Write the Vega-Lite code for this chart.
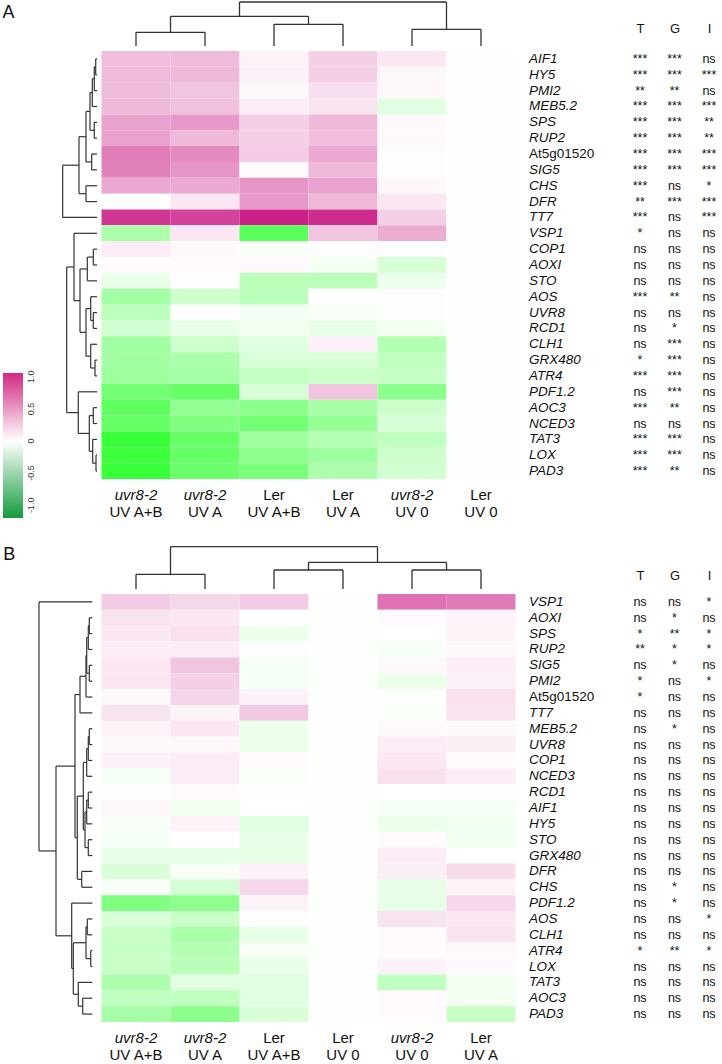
{
  "$schema": "https://vega.github.io/schema/vega-lite/v6.json",
  "padding": 0,
  "config": {"view": {"stroke": null}, "font": "Liberation Sans"},
  "datasets": {
    "heatA": [
      {"gene":"AIF1","uvr8-2|UV A+B":0.28,"uvr8-2|UV A":0.29,"Ler|UV A+B":0.05,"Ler|UV A":0.2,"uvr8-2|UV 0":0.1,"Ler|UV 0":-0.01},
      {"gene":"HY5","uvr8-2|UV A+B":0.29,"uvr8-2|UV A":0.3,"Ler|UV A+B":0.06,"Ler|UV A":0.2,"uvr8-2|UV 0":0.04,"Ler|UV 0":-0.01},
      {"gene":"PMI2","uvr8-2|UV A+B":0.29,"uvr8-2|UV A":0.25,"Ler|UV A+B":0.04,"Ler|UV A":0.14,"uvr8-2|UV 0":0.04,"Ler|UV 0":-0.01},
      {"gene":"MEB5.2","uvr8-2|UV A+B":0.3,"uvr8-2|UV A":0.27,"Ler|UV A+B":0.08,"Ler|UV A":0.12,"uvr8-2|UV 0":-0.12,"Ler|UV 0":-0.01},
      {"gene":"SPS","uvr8-2|UV A+B":0.4,"uvr8-2|UV A":0.43,"Ler|UV A+B":0.2,"Ler|UV A":0.3,"uvr8-2|UV 0":0.03,"Ler|UV 0":-0.01},
      {"gene":"RUP2","uvr8-2|UV A+B":0.4,"uvr8-2|UV A":0.3,"Ler|UV A+B":0.2,"Ler|UV A":0.28,"uvr8-2|UV 0":0.03,"Ler|UV 0":-0.01},
      {"gene":"At5g01520","uvr8-2|UV A+B":0.55,"uvr8-2|UV A":0.5,"Ler|UV A+B":0.22,"Ler|UV A":0.37,"uvr8-2|UV 0":0.01,"Ler|UV 0":-0.01},
      {"gene":"SIG5","uvr8-2|UV A+B":0.53,"uvr8-2|UV A":0.45,"Ler|UV A+B":0.02,"Ler|UV A":0.3,"uvr8-2|UV 0":0.01,"Ler|UV 0":-0.01},
      {"gene":"CHS","uvr8-2|UV A+B":0.37,"uvr8-2|UV A":0.36,"Ler|UV A+B":0.45,"Ler|UV A":0.4,"uvr8-2|UV 0":0.04,"Ler|UV 0":-0.01},
      {"gene":"DFR","uvr8-2|UV A+B":-0.01,"uvr8-2|UV A":0.1,"Ler|UV A+B":0.43,"Ler|UV A":0.3,"uvr8-2|UV 0":0.1,"Ler|UV 0":-0.01},
      {"gene":"TT7","uvr8-2|UV A+B":0.85,"uvr8-2|UV A":0.8,"Ler|UV A+B":0.95,"Ler|UV A":0.9,"uvr8-2|UV 0":0.2,"Ler|UV 0":-0.01},
      {"gene":"VSP1","uvr8-2|UV A+B":-0.33,"uvr8-2|UV A":0.1,"Ler|UV A+B":-0.65,"Ler|UV A":0.25,"uvr8-2|UV 0":0.35,"Ler|UV 0":-0.01},
      {"gene":"COP1","uvr8-2|UV A+B":0.08,"uvr8-2|UV A":0.03,"Ler|UV A+B":-0.02,"Ler|UV A":0.01,"uvr8-2|UV 0":0.01,"Ler|UV 0":-0.01},
      {"gene":"AOXI","uvr8-2|UV A+B":0.02,"uvr8-2|UV A":0.02,"Ler|UV A+B":0.03,"Ler|UV A":-0.05,"uvr8-2|UV 0":-0.16,"Ler|UV 0":-0.01},
      {"gene":"STO","uvr8-2|UV A+B":-0.1,"uvr8-2|UV A":0.01,"Ler|UV A+B":-0.27,"Ler|UV A":-0.27,"uvr8-2|UV 0":-0.07,"Ler|UV 0":-0.01},
      {"gene":"AOS","uvr8-2|UV A+B":-0.36,"uvr8-2|UV A":-0.2,"Ler|UV A+B":-0.27,"Ler|UV A":0.01,"uvr8-2|UV 0":0.01,"Ler|UV 0":-0.01},
      {"gene":"UVR8","uvr8-2|UV A+B":-0.26,"uvr8-2|UV A":0.01,"Ler|UV A+B":-0.05,"Ler|UV A":-0.03,"uvr8-2|UV 0":0.01,"Ler|UV 0":-0.01},
      {"gene":"RCD1","uvr8-2|UV A+B":-0.18,"uvr8-2|UV A":-0.1,"Ler|UV A+B":-0.05,"Ler|UV A":-0.1,"uvr8-2|UV 0":-0.05,"Ler|UV 0":-0.01},
      {"gene":"CLH1","uvr8-2|UV A+B":-0.37,"uvr8-2|UV A":-0.2,"Ler|UV A+B":-0.12,"Ler|UV A":0.06,"uvr8-2|UV 0":-0.3,"Ler|UV 0":-0.01},
      {"gene":"GRX480","uvr8-2|UV A+B":-0.37,"uvr8-2|UV A":-0.33,"Ler|UV A+B":-0.15,"Ler|UV A":-0.15,"uvr8-2|UV 0":-0.25,"Ler|UV 0":-0.01},
      {"gene":"ATR4","uvr8-2|UV A+B":-0.38,"uvr8-2|UV A":-0.35,"Ler|UV A+B":-0.23,"Ler|UV A":-0.2,"uvr8-2|UV 0":-0.22,"Ler|UV 0":-0.01},
      {"gene":"PDF1.2","uvr8-2|UV A+B":-0.55,"uvr8-2|UV A":-0.6,"Ler|UV A+B":-0.15,"Ler|UV A":0.25,"uvr8-2|UV 0":-0.45,"Ler|UV 0":-0.01},
      {"gene":"AOC3","uvr8-2|UV A+B":-0.63,"uvr8-2|UV A":-0.42,"Ler|UV A+B":-0.45,"Ler|UV A":-0.35,"uvr8-2|UV 0":-0.2,"Ler|UV 0":-0.01},
      {"gene":"NCED3","uvr8-2|UV A+B":-0.6,"uvr8-2|UV A":-0.5,"Ler|UV A+B":-0.55,"Ler|UV A":-0.42,"uvr8-2|UV 0":-0.15,"Ler|UV 0":-0.01},
      {"gene":"TAT3","uvr8-2|UV A+B":-0.78,"uvr8-2|UV A":-0.6,"Ler|UV A+B":-0.38,"Ler|UV A":-0.3,"uvr8-2|UV 0":-0.25,"Ler|UV 0":-0.01},
      {"gene":"LOX","uvr8-2|UV A+B":-0.76,"uvr8-2|UV A":-0.6,"Ler|UV A+B":-0.45,"Ler|UV A":-0.38,"uvr8-2|UV 0":-0.2,"Ler|UV 0":-0.01},
      {"gene":"PAD3","uvr8-2|UV A+B":-0.78,"uvr8-2|UV A":-0.58,"Ler|UV A+B":-0.52,"Ler|UV A":-0.32,"uvr8-2|UV 0":-0.18,"Ler|UV 0":-0.01}
    ],
    "heatB": [
      {"gene":"VSP1","uvr8-2|UV A+B":0.22,"uvr8-2|UV A":0.17,"Ler|UV A+B":0.22,"Ler|UV 0":-0.01,"uvr8-2|UV 0":0.6,"Ler|UV A":0.57},
      {"gene":"AOXI","uvr8-2|UV A+B":0.12,"uvr8-2|UV A":0.1,"Ler|UV A+B":0.0,"Ler|UV 0":-0.01,"uvr8-2|UV 0":0.02,"Ler|UV A":0.05},
      {"gene":"SPS","uvr8-2|UV A+B":0.1,"uvr8-2|UV A":0.13,"Ler|UV A+B":-0.08,"Ler|UV 0":-0.01,"uvr8-2|UV 0":0.0,"Ler|UV A":0.05},
      {"gene":"RUP2","uvr8-2|UV A+B":0.08,"uvr8-2|UV A":0.08,"Ler|UV A+B":0.01,"Ler|UV 0":-0.01,"uvr8-2|UV 0":-0.04,"Ler|UV A":0.03},
      {"gene":"SIG5","uvr8-2|UV A+B":0.1,"uvr8-2|UV A":0.25,"Ler|UV A+B":-0.04,"Ler|UV 0":-0.01,"uvr8-2|UV 0":0.03,"Ler|UV A":0.08},
      {"gene":"PMI2","uvr8-2|UV A+B":0.1,"uvr8-2|UV A":0.2,"Ler|UV A+B":-0.04,"Ler|UV 0":-0.01,"uvr8-2|UV 0":-0.08,"Ler|UV A":0.06},
      {"gene":"At5g01520","uvr8-2|UV A+B":0.03,"uvr8-2|UV A":0.18,"Ler|UV A+B":0.06,"Ler|UV 0":-0.01,"uvr8-2|UV 0":-0.01,"Ler|UV A":0.13},
      {"gene":"TT7","uvr8-2|UV A+B":0.12,"uvr8-2|UV A":0.05,"Ler|UV A+B":0.23,"Ler|UV 0":-0.01,"uvr8-2|UV 0":-0.02,"Ler|UV A":0.12},
      {"gene":"MEB5.2","uvr8-2|UV A+B":0.05,"uvr8-2|UV A":0.1,"Ler|UV A+B":-0.08,"Ler|UV 0":-0.01,"uvr8-2|UV 0":0.03,"Ler|UV A":0.03},
      {"gene":"UVR8","uvr8-2|UV A+B":0.03,"uvr8-2|UV A":0.04,"Ler|UV A+B":-0.08,"Ler|UV 0":-0.01,"uvr8-2|UV 0":0.08,"Ler|UV A":0.07},
      {"gene":"COP1","uvr8-2|UV A+B":0.06,"uvr8-2|UV A":0.08,"Ler|UV A+B":0.02,"Ler|UV 0":-0.01,"uvr8-2|UV 0":0.1,"Ler|UV A":0.02},
      {"gene":"NCED3","uvr8-2|UV A+B":-0.04,"uvr8-2|UV A":0.08,"Ler|UV A+B":-0.02,"Ler|UV 0":-0.01,"uvr8-2|UV 0":0.13,"Ler|UV A":0.08},
      {"gene":"RCD1","uvr8-2|UV A+B":-0.01,"uvr8-2|UV A":0.02,"Ler|UV A+B":-0.01,"Ler|UV 0":-0.01,"uvr8-2|UV 0":0.0,"Ler|UV A":-0.01},
      {"gene":"AIF1","uvr8-2|UV A+B":0.04,"uvr8-2|UV A":-0.06,"Ler|UV A+B":0.0,"Ler|UV 0":-0.01,"uvr8-2|UV 0":-0.04,"Ler|UV A":-0.04},
      {"gene":"HY5","uvr8-2|UV A+B":-0.03,"uvr8-2|UV A":0.05,"Ler|UV A+B":-0.12,"Ler|UV 0":-0.01,"uvr8-2|UV 0":-0.08,"Ler|UV A":-0.06},
      {"gene":"STO","uvr8-2|UV A+B":-0.04,"uvr8-2|UV A":0.0,"Ler|UV A+B":-0.1,"Ler|UV 0":-0.01,"uvr8-2|UV 0":0.02,"Ler|UV A":-0.06},
      {"gene":"GRX480","uvr8-2|UV A+B":-0.1,"uvr8-2|UV A":-0.1,"Ler|UV A+B":-0.1,"Ler|UV 0":-0.01,"uvr8-2|UV 0":0.08,"Ler|UV A":0.0},
      {"gene":"DFR","uvr8-2|UV A+B":-0.15,"uvr8-2|UV A":-0.03,"Ler|UV A+B":0.06,"Ler|UV 0":-0.01,"uvr8-2|UV 0":0.07,"Ler|UV A":0.15},
      {"gene":"CHS","uvr8-2|UV A+B":-0.03,"uvr8-2|UV A":-0.17,"Ler|UV A+B":0.17,"Ler|UV 0":-0.01,"uvr8-2|UV 0":-0.1,"Ler|UV A":0.05},
      {"gene":"PDF1.2","uvr8-2|UV A+B":-0.5,"uvr8-2|UV A":-0.45,"Ler|UV A+B":0.05,"Ler|UV 0":-0.01,"uvr8-2|UV 0":-0.1,"Ler|UV A":0.17},
      {"gene":"AOS","uvr8-2|UV A+B":-0.15,"uvr8-2|UV A":-0.22,"Ler|UV A+B":0.01,"Ler|UV 0":-0.01,"uvr8-2|UV 0":0.12,"Ler|UV A":0.1},
      {"gene":"CLH1","uvr8-2|UV A+B":-0.22,"uvr8-2|UV A":-0.33,"Ler|UV A+B":-0.1,"Ler|UV 0":-0.01,"uvr8-2|UV 0":0.02,"Ler|UV A":0.12},
      {"gene":"ATR4","uvr8-2|UV A+B":-0.22,"uvr8-2|UV A":-0.3,"Ler|UV A+B":-0.03,"Ler|UV 0":-0.01,"uvr8-2|UV 0":0.02,"Ler|UV A":0.03},
      {"gene":"LOX","uvr8-2|UV A+B":-0.22,"uvr8-2|UV A":-0.28,"Ler|UV A+B":-0.1,"Ler|UV 0":-0.01,"uvr8-2|UV 0":0.06,"Ler|UV A":0.03},
      {"gene":"TAT3","uvr8-2|UV A+B":-0.32,"uvr8-2|UV A":-0.12,"Ler|UV A+B":-0.12,"Ler|UV 0":-0.01,"uvr8-2|UV 0":-0.25,"Ler|UV A":-0.05},
      {"gene":"AOC3","uvr8-2|UV A+B":-0.25,"uvr8-2|UV A":-0.25,"Ler|UV A+B":-0.12,"Ler|UV 0":-0.01,"uvr8-2|UV 0":0.02,"Ler|UV A":-0.05},
      {"gene":"PAD3","uvr8-2|UV A+B":-0.35,"uvr8-2|UV A":-0.45,"Ler|UV A+B":-0.15,"Ler|UV 0":-0.01,"uvr8-2|UV 0":0.02,"Ler|UV A":-0.22}
    ],
    "sigA": [
      {"gene":"AIF1","T":"***","G":"***","I":"ns"},
      {"gene":"HY5","T":"***","G":"***","I":"***"},
      {"gene":"PMI2","T":"**","G":"**","I":"ns"},
      {"gene":"MEB5.2","T":"***","G":"***","I":"***"},
      {"gene":"SPS","T":"***","G":"***","I":"**"},
      {"gene":"RUP2","T":"***","G":"***","I":"**"},
      {"gene":"At5g01520","T":"***","G":"***","I":"***"},
      {"gene":"SIG5","T":"***","G":"***","I":"***"},
      {"gene":"CHS","T":"***","G":"ns","I":"*"},
      {"gene":"DFR","T":"**","G":"***","I":"***"},
      {"gene":"TT7","T":"***","G":"ns","I":"***"},
      {"gene":"VSP1","T":"*","G":"ns","I":"ns"},
      {"gene":"COP1","T":"ns","G":"ns","I":"ns"},
      {"gene":"AOXI","T":"ns","G":"ns","I":"ns"},
      {"gene":"STO","T":"ns","G":"ns","I":"ns"},
      {"gene":"AOS","T":"***","G":"**","I":"ns"},
      {"gene":"UVR8","T":"ns","G":"ns","I":"ns"},
      {"gene":"RCD1","T":"ns","G":"*","I":"ns"},
      {"gene":"CLH1","T":"ns","G":"***","I":"ns"},
      {"gene":"GRX480","T":"*","G":"***","I":"ns"},
      {"gene":"ATR4","T":"***","G":"***","I":"ns"},
      {"gene":"PDF1.2","T":"ns","G":"***","I":"ns"},
      {"gene":"AOC3","T":"***","G":"**","I":"ns"},
      {"gene":"NCED3","T":"ns","G":"ns","I":"ns"},
      {"gene":"TAT3","T":"***","G":"***","I":"ns"},
      {"gene":"LOX","T":"***","G":"***","I":"ns"},
      {"gene":"PAD3","T":"***","G":"**","I":"ns"}
    ],
    "sigB": [
      {"gene":"VSP1","T":"ns","G":"ns","I":"*"},
      {"gene":"AOXI","T":"ns","G":"*","I":"ns"},
      {"gene":"SPS","T":"*","G":"**","I":"*"},
      {"gene":"RUP2","T":"**","G":"*","I":"*"},
      {"gene":"SIG5","T":"ns","G":"*","I":"ns"},
      {"gene":"PMI2","T":"*","G":"ns","I":"*"},
      {"gene":"At5g01520","T":"*","G":"ns","I":"ns"},
      {"gene":"TT7","T":"ns","G":"ns","I":"ns"},
      {"gene":"MEB5.2","T":"ns","G":"*","I":"ns"},
      {"gene":"UVR8","T":"ns","G":"ns","I":"ns"},
      {"gene":"COP1","T":"ns","G":"ns","I":"ns"},
      {"gene":"NCED3","T":"ns","G":"ns","I":"ns"},
      {"gene":"RCD1","T":"ns","G":"ns","I":"ns"},
      {"gene":"AIF1","T":"ns","G":"ns","I":"ns"},
      {"gene":"HY5","T":"ns","G":"ns","I":"ns"},
      {"gene":"STO","T":"ns","G":"ns","I":"ns"},
      {"gene":"GRX480","T":"ns","G":"ns","I":"ns"},
      {"gene":"DFR","T":"ns","G":"ns","I":"ns"},
      {"gene":"CHS","T":"ns","G":"*","I":"ns"},
      {"gene":"PDF1.2","T":"ns","G":"*","I":"ns"},
      {"gene":"AOS","T":"ns","G":"ns","I":"*"},
      {"gene":"CLH1","T":"ns","G":"ns","I":"ns"},
      {"gene":"ATR4","T":"*","G":"**","I":"*"},
      {"gene":"LOX","T":"ns","G":"ns","I":"ns"},
      {"gene":"TAT3","T":"ns","G":"ns","I":"ns"},
      {"gene":"AOC3","T":"ns","G":"ns","I":"ns"},
      {"gene":"PAD3","T":"ns","G":"ns","I":"ns"}
    ],
    "rowA": [
      {"h":0.065,"lo":0,"hi":1,"hlo":0,"hhi":0},
      {"h":0.135,"lo":0.5,"hi":2,"hlo":0.065,"hhi":0},
      {"h":0.235,"lo":1.25,"hi":3,"hlo":0.135,"hhi":0},
      {"h":0.135,"lo":4,"hi":5,"hlo":0,"hhi":0},
      {"h":0.35,"lo":2.125,"hi":4.5,"hlo":0.235,"hhi":0.135},
      {"h":0.265,"lo":6,"hi":7,"hlo":0,"hhi":0},
      {"h":0.55,"lo":3.3125,"hi":6.5,"hlo":0.35,"hhi":0.265},
      {"h":0.55,"lo":8,"hi":9,"hlo":0,"hhi":0},
      {"h":0.9,"lo":4.90625,"hi":8.5,"hlo":0.55,"hhi":0.55},
      {"h":1.715,"lo":6.703,"hi":10,"hlo":0.9,"hhi":0},
      {"h":0.185,"lo":12,"hi":13,"hlo":0,"hhi":0},
      {"h":0.485,"lo":12.5,"hi":14,"hlo":0.185,"hhi":0},
      {"h":0.185,"lo":16,"hi":17,"hlo":0,"hhi":0},
      {"h":0.315,"lo":15,"hi":16.5,"hlo":0,"hhi":0.185},
      {"h":0.1,"lo":19,"hi":20,"hlo":0,"hhi":0},
      {"h":0.315,"lo":18,"hi":19.5,"hlo":0,"hhi":0.1},
      {"h":0.55,"lo":15.75,"hi":18.75,"hlo":0.315,"hhi":0.315},
      {"h":0.85,"lo":13.25,"hi":17.25,"hlo":0.485,"hhi":0.55},
      {"h":1.15,"lo":11,"hi":15.25,"hlo":0,"hhi":0.85},
      {"h":0.05,"lo":25,"hi":26,"hlo":0,"hhi":0},
      {"h":0.215,"lo":24,"hi":25.5,"hlo":0,"hhi":0.05},
      {"h":0.185,"lo":22,"hi":23,"hlo":0,"hhi":0},
      {"h":0.385,"lo":22.5,"hi":24.75,"hlo":0.185,"hhi":0.215},
      {"h":0.935,"lo":21,"hi":23.625,"hlo":0,"hhi":0.385},
      {"h":1.515,"lo":13.125,"hi":22.3125,"hlo":1.15,"hhi":0.935}
    ],
    "rowB": [
      {"h":0.15,"lo":1,"hi":2,"hlo":0,"hhi":0},
      {"h":0.2,"lo":1.5,"hi":3,"hlo":0.15,"hhi":0},
      {"h":0.15,"lo":4,"hi":5,"hlo":0,"hhi":0},
      {"h":0.28,"lo":2.25,"hi":4.5,"hlo":0.2,"hhi":0.15},
      {"h":0.315,"lo":3.375,"hi":6,"hlo":0.28,"hhi":0},
      {"h":0.615,"lo":4.6875,"hi":7,"hlo":0.315,"hhi":0},
      {"h":0.15,"lo":8,"hi":9,"hlo":0,"hhi":0},
      {"h":0.2,"lo":8.5,"hi":10,"hlo":0.15,"hhi":0},
      {"h":0.28,"lo":9.25,"hi":11,"hlo":0.2,"hhi":0},
      {"h":0.2,"lo":12,"hi":13,"hlo":0,"hhi":0},
      {"h":0.28,"lo":12.5,"hi":14,"hlo":0.2,"hhi":0},
      {"h":0.2,"lo":15,"hi":16,"hlo":0,"hhi":0},
      {"h":0.365,"lo":13.25,"hi":15.5,"hlo":0.28,"hhi":0.2},
      {"h":0.45,"lo":10.125,"hi":14.375,"hlo":0.28,"hhi":0.365},
      {"h":0.53,"lo":17,"hi":18,"hlo":0,"hhi":0},
      {"h":0.75,"lo":12.25,"hi":17.5,"hlo":0.45,"hhi":0.53},
      {"h":0.865,"lo":5.84375,"hi":14.875,"hlo":0.615,"hhi":0.75},
      {"h":0.25,"lo":20,"hi":21,"hlo":0,"hhi":0},
      {"h":0.08,"lo":22,"hi":23,"hlo":0,"hhi":0},
      {"h":0.315,"lo":20.5,"hi":22.5,"hlo":0.25,"hhi":0.08},
      {"h":0.48,"lo":25,"hi":26,"hlo":0,"hhi":0},
      {"h":0.7,"lo":24,"hi":25.5,"hlo":0,"hhi":0.48},
      {"h":0.95,"lo":21.5,"hi":24.75,"hlo":0.315,"hhi":0.7},
      {"h":1.03,"lo":19,"hi":23.125,"hlo":0,"hhi":0.95},
      {"h":1.815,"lo":10.359,"hi":21.0625,"hlo":0.865,"hhi":1.03},
      {"h":2.665,"lo":0,"hi":15.711,"hlo":0,"hhi":1.815}
    ],
    "topA": [
      {"h":0.685,"lo":0,"hi":1,"hlo":0,"hhi":0},
      {"h":1.085,"lo":2,"hi":3,"hlo":0,"hhi":0},
      {"h":1.485,"lo":0.5,"hi":2.5,"hlo":0.685,"hhi":1.085},
      {"h":0.835,"lo":4,"hi":5,"hlo":0,"hhi":0},
      {"h":2.2,"lo":1.5,"hi":4.5,"hlo":1.485,"hhi":0.835}
    ],
    "topB": [
      {"h":0.735,"lo":0,"hi":1,"hlo":0,"hhi":0},
      {"h":0.95,"lo":2,"hi":3,"hlo":0,"hhi":0},
      {"h":0.95,"lo":4,"hi":5,"hlo":0,"hhi":0},
      {"h":1.335,"lo":2.5,"hi":4.5,"hlo":0.95,"hhi":0.95},
      {"h":2.115,"lo":0.5,"hi":3.5,"hlo":0.735,"hhi":1.335}
    ],
    "legendVals": [{"v": -1}, {"v": 1}]
  },
  "concat": [
    {"width": 97, "height": 46, "data": {"values": [{"panel": "A"}]},
     "mark": {"type": "text", "align": "left", "baseline": "alphabetic", "fontSize": 18, "color": "#111"},
     "encoding": {"x": {"datum": 0.025, "type": "quantitative", "scale": {"domain": [0, 1]}, "axis": null},
                  "y": {"datum": 0.609, "type": "quantitative", "scale": {"domain": [0, 1]}, "axis": null},
                  "text": {"field": "panel"}}},
    {"width": 414, "height": 46, "data": {"name": "topA"},
     "layer": [
       {"mark": {"type": "rule", "color": "#333", "strokeWidth": 1.3},
        "encoding": {"x": {"field": "lo", "type": "quantitative", "scale": {"domain": [-0.5, 5.5], "nice": false, "zero": false}, "axis": null},
                     "x2": {"field": "hi"},
                     "y": {"field": "h", "type": "quantitative", "scale": {"domain": [0, 2.3], "nice": false, "zero": false}, "axis": null}}},
       {"mark": {"type": "rule", "color": "#333", "strokeWidth": 1.3},
        "encoding": {"x": {"field": "lo", "type": "quantitative", "scale": {"domain": [-0.5, 5.5], "nice": false, "zero": false}, "axis": null},
                     "y": {"field": "hlo", "type": "quantitative", "scale": {"domain": [0, 2.3], "nice": false, "zero": false}, "axis": null},
                     "y2": {"field": "h"}}},
       {"mark": {"type": "rule", "color": "#333", "strokeWidth": 1.3},
        "encoding": {"x": {"field": "hi", "type": "quantitative", "scale": {"domain": [-0.5, 5.5], "nice": false, "zero": false}, "axis": null},
                     "y": {"field": "hhi", "type": "quantitative", "scale": {"domain": [0, 2.3], "nice": false, "zero": false}, "axis": null},
                     "y2": {"field": "h"}}}
     ]},
    {"width": 99.7, "height": 46, "data": {"values": [{}]}, "mark": {"type": "point", "opacity": 0}},
    {"width": 90, "height": 46, "data": {"values": [{}]}, "mark": {"type": "point", "opacity": 0}},

    {"width": 97, "height": 428,
     "layer": [
       {"data": {"name": "rowA"}, "mark": {"type": "rule", "color": "#333", "strokeWidth": 1.2},
        "encoding": {"x": {"field": "h", "type": "quantitative", "scale": {"domain": [0, 4.85], "reverse": true, "nice": false, "zero": false}, "axis": null},
                     "y": {"field": "lo", "type": "quantitative", "scale": {"domain": [-0.5, 26.5], "reverse": true, "nice": false, "zero": false}, "axis": null},
                     "y2": {"field": "hi"}}},
       {"data": {"name": "rowA"}, "mark": {"type": "rule", "color": "#333", "strokeWidth": 1.2},
        "encoding": {"x": {"field": "hlo", "type": "quantitative", "scale": {"domain": [0, 4.85], "reverse": true, "nice": false, "zero": false}, "axis": null},
                     "x2": {"field": "h"},
                     "y": {"field": "lo", "type": "quantitative", "scale": {"domain": [-0.5, 26.5], "reverse": true, "nice": false, "zero": false}, "axis": null}}},
       {"data": {"name": "rowA"}, "mark": {"type": "rule", "color": "#333", "strokeWidth": 1.2},
        "encoding": {"x": {"field": "hhi", "type": "quantitative", "scale": {"domain": [0, 4.85], "reverse": true, "nice": false, "zero": false}, "axis": null},
                     "x2": {"field": "h"},
                     "y": {"field": "hi", "type": "quantitative", "scale": {"domain": [-0.5, 26.5], "reverse": true, "nice": false, "zero": false}, "axis": null}}},
       {"data": {"name": "legendVals"}, "mark": {"type": "rect", "opacity": 0},
        "encoding": {"color": {"field": "v", "type": "quantitative",
                               "scale": {"domain": [-1.2, 0, 1.06], "range": ["#139a3d", "#ffffff", "#d02a80"], "interpolate": "rgb"},
                               "legend": {"type": "gradient", "orient": "none", "legendX": 3, "legendY": 322, "direction": "vertical", "title": null,
                                          "gradientLength": 145, "gradientThickness": 20, "gradientStrokeWidth": 0,
                                          "values": [-1, -0.5, 0, 0.5, 1], "labelOverlap": false,
                                          "labelExpr": "datum.value == 0 ? '0' : replace(format(datum.value, '.1f'), '\u2212', '-')",
                                          "labelFontSize": 9, "labelColor": "#333", "labelOffset": 4,
                                          "encode": {"labels": {"update": {"angle": {"value": -90}, "align": {"value": "center"}, "baseline": {"value": "top"}}}}}}}}
     ]},
    {"width": 414, "height": 428, "data": {"name": "heatA"},
     "transform": [{"fold": ["uvr8-2|UV A+B", "uvr8-2|UV A", "Ler|UV A+B", "Ler|UV A", "uvr8-2|UV 0", "Ler|UV 0"], "as": ["cond", "v"]}],
     "layer": [
       {"mark": {"type": "rect"},
        "encoding": {
          "x": {"field": "cond", "type": "nominal", "sort": ["uvr8-2|UV A+B", "uvr8-2|UV A", "Ler|UV A+B", "Ler|UV A", "uvr8-2|UV 0", "Ler|UV 0"],
                "scale": {"paddingInner": 0, "paddingOuter": 0},
                "axis": {"orient": "bottom", "title": null, "domain": false, "ticks": false, "labelAngle": 0, "labelPadding": 8, "labelFontSize": 15, "labelColor": "#111", "labelOverlap": false,
                         "labelExpr": "split(datum.value, '|')[0]",
                         "labelFontStyle": {"condition": {"test": "indexof(datum.value, 'uvr8') == 0", "value": "italic"}, "value": "normal"}}},
          "y": {"field": "gene", "type": "nominal", "sort": ["AIF1","HY5","PMI2","MEB5.2","SPS","RUP2","At5g01520","SIG5","CHS","DFR","TT7","VSP1","COP1","AOXI","STO","AOS","UVR8","RCD1","CLH1","GRX480","ATR4","PDF1.2","AOC3","NCED3","TAT3","LOX","PAD3"],
                "scale": {"paddingInner": 0, "paddingOuter": 0},
                "axis": {"orient": "right", "title": null, "domain": false, "ticks": false, "labelPadding": 13, "labelFontSize": 13.5, "labelColor": "#111", "labelOverlap": false,
                         "labelFontStyle": {"condition": {"test": "datum.value == 'At5g01520'", "value": "normal"}, "value": "italic"}}},
          "color": {"field": "v", "type": "quantitative", "scale": {"domain": [-1, 0, 1], "range": ["#00ff00", "#ffffff", "#c81482"], "interpolate": "rgb"}, "legend": null}}},
       {"mark": {"type": "rect", "opacity": 0},
        "encoding": {
          "x": {"field": "cond", "type": "nominal", "sort": ["uvr8-2|UV A+B", "uvr8-2|UV A", "Ler|UV A+B", "Ler|UV A", "uvr8-2|UV 0", "Ler|UV 0"],
                "scale": {"paddingInner": 0, "paddingOuter": 0},
                "axis": {"orient": "bottom", "title": null, "domain": false, "ticks": false, "labelAngle": 0, "labelPadding": 25.5, "labelFontSize": 15, "labelColor": "#111", "labelOverlap": false,
                         "labelExpr": "split(datum.value, '|')[1]"}}}}
     ],
     "resolve": {"axis": {"x": "independent"}}},
    {"width": 99.7, "height": 428, "data": {"values": [{}]}, "mark": {"type": "point", "opacity": 0}},
    {"width": 90, "height": 428, "data": {"name": "sigA"},
     "transform": [{"fold": ["T", "G", "I"], "as": ["test", "sig"]}],
     "mark": {"type": "text", "fontSize": 12.5, "color": "#111"},
     "encoding": {
       "x": {"field": "test", "type": "nominal", "sort": ["T", "G", "I"], "scale": {"type": "point", "padding": 0.304},
             "axis": {"orient": "top", "title": null, "domain": false, "ticks": false, "labelAngle": 0, "labelPadding": 16, "labelFontSize": 13, "labelColor": "#111"}},
       "y": {"field": "gene", "type": "nominal", "sort": ["AIF1","HY5","PMI2","MEB5.2","SPS","RUP2","At5g01520","SIG5","CHS","DFR","TT7","VSP1","COP1","AOXI","STO","AOS","UVR8","RCD1","CLH1","GRX480","ATR4","PDF1.2","AOC3","NCED3","TAT3","LOX","PAD3"],
             "scale": {"paddingInner": 0, "paddingOuter": 0}, "axis": null},
       "text": {"field": "sig"}}},

    {"width": 92.3, "height": 105, "data": {"values": [{"panel": "B"}]},
     "mark": {"type": "text", "align": "left", "baseline": "alphabetic", "fontSize": 18, "color": "#111"},
     "encoding": {"x": {"datum": 0.035, "type": "quantitative", "scale": {"domain": [0, 1]}, "axis": null},
                  "y": {"datum": 0.276, "type": "quantitative", "scale": {"domain": [0, 1]}, "axis": null},
                  "text": {"field": "panel"}}},
    {"width": 414, "height": 105, "data": {"name": "topB"},
     "layer": [
       {"mark": {"type": "rule", "color": "#333", "strokeWidth": 1.3},
        "encoding": {"x": {"field": "lo", "type": "quantitative", "scale": {"domain": [-0.5, 5.5], "nice": false, "zero": false}, "axis": null},
                     "x2": {"field": "hi"},
                     "y": {"field": "h", "type": "quantitative", "scale": {"domain": [0, 5.25], "nice": false, "zero": false}, "axis": null}}},
       {"mark": {"type": "rule", "color": "#333", "strokeWidth": 1.3},
        "encoding": {"x": {"field": "lo", "type": "quantitative", "scale": {"domain": [-0.5, 5.5], "nice": false, "zero": false}, "axis": null},
                     "y": {"field": "hlo", "type": "quantitative", "scale": {"domain": [0, 5.25], "nice": false, "zero": false}, "axis": null},
                     "y2": {"field": "h"}}},
       {"mark": {"type": "rule", "color": "#333", "strokeWidth": 1.3},
        "encoding": {"x": {"field": "hi", "type": "quantitative", "scale": {"domain": [-0.5, 5.5], "nice": false, "zero": false}, "axis": null},
                     "y": {"field": "hhi", "type": "quantitative", "scale": {"domain": [0, 5.25], "nice": false, "zero": false}, "axis": null},
                     "y2": {"field": "h"}}}
     ]},
    {"width": 104.4, "height": 105, "data": {"values": [{}]}, "mark": {"type": "point", "opacity": 0}},
    {"width": 90, "height": 105, "data": {"values": [{}]}, "mark": {"type": "point", "opacity": 0}},

    {"width": 92.3, "height": 428, "data": {"name": "rowB"},
     "layer": [
       {"mark": {"type": "rule", "color": "#333", "strokeWidth": 1.2},
        "encoding": {"x": {"field": "h", "type": "quantitative", "scale": {"domain": [0, 4.615], "reverse": true, "nice": false, "zero": false}, "axis": null},
                     "y": {"field": "lo", "type": "quantitative", "scale": {"domain": [-0.5, 26.5], "reverse": true, "nice": false, "zero": false}, "axis": null},
                     "y2": {"field": "hi"}}},
       {"mark": {"type": "rule", "color": "#333", "strokeWidth": 1.2},
        "encoding": {"x": {"field": "hlo", "type": "quantitative", "scale": {"domain": [0, 4.615], "reverse": true, "nice": false, "zero": false}, "axis": null},
                     "x2": {"field": "h"},
                     "y": {"field": "lo", "type": "quantitative", "scale": {"domain": [-0.5, 26.5], "reverse": true, "nice": false, "zero": false}, "axis": null}}},
       {"mark": {"type": "rule", "color": "#333", "strokeWidth": 1.2},
        "encoding": {"x": {"field": "hhi", "type": "quantitative", "scale": {"domain": [0, 4.615], "reverse": true, "nice": false, "zero": false}, "axis": null},
                     "x2": {"field": "h"},
                     "y": {"field": "hi", "type": "quantitative", "scale": {"domain": [-0.5, 26.5], "reverse": true, "nice": false, "zero": false}, "axis": null}}}
     ]},
    {"width": 414, "height": 428, "data": {"name": "heatB"},
     "transform": [{"fold": ["uvr8-2|UV A+B", "uvr8-2|UV A", "Ler|UV A+B", "Ler|UV 0", "uvr8-2|UV 0", "Ler|UV A"], "as": ["cond", "v"]}],
     "layer": [
       {"mark": {"type": "rect"},
        "encoding": {
          "x": {"field": "cond", "type": "nominal", "sort": ["uvr8-2|UV A+B", "uvr8-2|UV A", "Ler|UV A+B", "Ler|UV 0", "uvr8-2|UV 0", "Ler|UV A"],
                "scale": {"paddingInner": 0, "paddingOuter": 0},
                "axis": {"orient": "bottom", "title": null, "domain": false, "ticks": false, "labelAngle": 0, "labelPadding": 8, "labelFontSize": 15, "labelColor": "#111", "labelOverlap": false,
                         "labelExpr": "split(datum.value, '|')[0]",
                         "labelFontStyle": {"condition": {"test": "indexof(datum.value, 'uvr8') == 0", "value": "italic"}, "value": "normal"}}},
          "y": {"field": "gene", "type": "nominal", "sort": ["VSP1","AOXI","SPS","RUP2","SIG5","PMI2","At5g01520","TT7","MEB5.2","UVR8","COP1","NCED3","RCD1","AIF1","HY5","STO","GRX480","DFR","CHS","PDF1.2","AOS","CLH1","ATR4","LOX","TAT3","AOC3","PAD3"],
                "scale": {"paddingInner": 0, "paddingOuter": 0},
                "axis": {"orient": "right", "title": null, "domain": false, "ticks": false, "labelPadding": 13, "labelFontSize": 13.5, "labelColor": "#111", "labelOverlap": false,
                         "labelFontStyle": {"condition": {"test": "datum.value == 'At5g01520'", "value": "normal"}, "value": "italic"}}},
          "color": {"field": "v", "type": "quantitative", "scale": {"domain": [-1, 0, 1], "range": ["#00ff00", "#ffffff", "#c81482"], "interpolate": "rgb"}, "legend": null}}},
       {"mark": {"type": "rect", "opacity": 0},
        "encoding": {
          "x": {"field": "cond", "type": "nominal", "sort": ["uvr8-2|UV A+B", "uvr8-2|UV A", "Ler|UV A+B", "Ler|UV 0", "uvr8-2|UV 0", "Ler|UV A"],
                "scale": {"paddingInner": 0, "paddingOuter": 0},
                "axis": {"orient": "bottom", "title": null, "domain": false, "ticks": false, "labelAngle": 0, "labelPadding": 25.5, "labelFontSize": 15, "labelColor": "#111", "labelOverlap": false,
                         "labelExpr": "split(datum.value, '|')[1]"}}}}
     ],
     "resolve": {"axis": {"x": "independent"}}},
    {"width": 104.4, "height": 428, "data": {"values": [{}]}, "mark": {"type": "point", "opacity": 0}},
    {"width": 90, "height": 428, "data": {"name": "sigB"},
     "transform": [{"fold": ["T", "G", "I"], "as": ["test", "sig"]}],
     "mark": {"type": "text", "fontSize": 12.5, "color": "#111"},
     "encoding": {
       "x": {"field": "test", "type": "nominal", "sort": ["T", "G", "I"], "scale": {"type": "point", "padding": 0.304},
             "axis": {"orient": "top", "title": null, "domain": false, "ticks": false, "labelAngle": 0, "labelPadding": 12, "labelFontSize": 13, "labelColor": "#111"}},
       "y": {"field": "gene", "type": "nominal", "sort": ["VSP1","AOXI","SPS","RUP2","SIG5","PMI2","At5g01520","TT7","MEB5.2","UVR8","COP1","NCED3","RCD1","AIF1","HY5","STO","GRX480","DFR","CHS","PDF1.2","AOS","CLH1","ATR4","LOX","TAT3","AOC3","PAD3"],
             "scale": {"paddingInner": 0, "paddingOuter": 0}, "axis": null},
       "text": {"field": "sig"}}}
  ],
  "columns": 4,
  "align": "none",
  "bounds": "flush",
  "spacing": {"row": 5, "column": 4.5},
  "resolve": {"scale": {"color": "independent"}, "legend": {"color": "independent"}}
}
